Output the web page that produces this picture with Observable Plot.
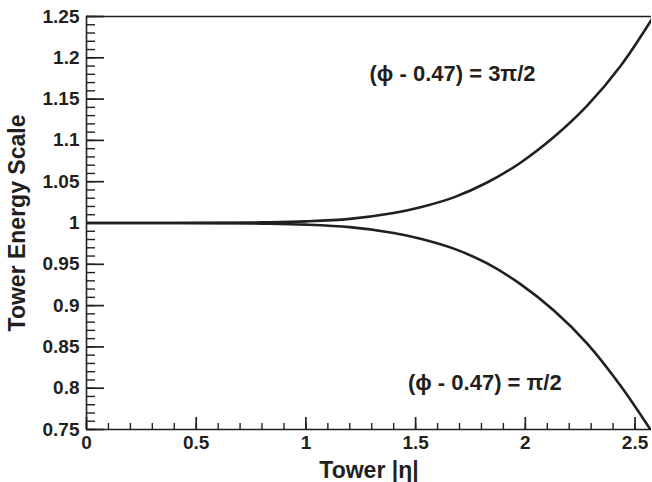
<!DOCTYPE html>
<html><head><meta charset="utf-8">
<script src="https://cdn.jsdelivr.net/npm/d3@7"></script>
<script src="https://cdn.jsdelivr.net/npm/@observablehq/plot@0.6"></script>
<style>html,body{margin:0;padding:0;background:#fff} svg{display:block}</style>
</head><body><div id="chart"></div>
<script>
// Tower |eta| sample points
const eta        = [0, 0.3, 0.6, 0.8, 1.0, 1.2, 1.4, 1.522, 1.674, 1.826, 1.978, 2.13, 2.282, 2.434, 2.575];
// (phi - 0.47) = 3pi/2
const upperScale = [1, 1, 1.0002, 1.0008, 1.002, 1.005, 1.012, 1.019, 1.031, 1.049, 1.073, 1.104, 1.142, 1.190, 1.246];
// (phi - 0.47) = pi/2
const lowerScale = [1, 1, 0.9998, 0.9992, 0.998, 0.995, 0.988, 0.981, 0.969, 0.951, 0.926, 0.894, 0.854, 0.803, 0.748];

const xTickValues = [0, 0.5, 1, 1.5, 2, 2.5];
const yTickValues = [0.75, 0.8, 0.85, 0.9, 0.95, 1, 1.05, 1.1, 1.15, 1.2, 1.25];
const xMinorTicks = d3.range(0, 26).map(i => i / 10);
const yMinorTicks = d3.range(75, 126).map(i => i / 100);

const labelText  = ["(ϕ - 0.47) = 3π/2", "(ϕ - 0.47) = π/2"];
const labelEta   = [1.29, 1.465];
const labelScale = [1.180, 0.806];

const xTitle = "Tower |η|";
const yTitle = "Tower Energy Scale";

const upperData = eta.map((e, i) => ({eta: e, s: upperScale[i]}));
const lowerData = eta.map((e, i) => ({eta: e, s: lowerScale[i]}));
const labelData = labelText.map((t, i) => ({t, eta: labelEta[i], s: labelScale[i]}));

const ink = "#231f20";
const fmt = d => `${+d.toFixed(2)}`;

const W = 652, H = 482, mL = 86, mR = 1, mT = 16, mB = 53;
const frameW = W - mL - mR, frameH = H - mT - mB;

const chart = Plot.plot({
  width: W,
  height: H,
  marginLeft: mL,
  marginRight: mR,
  marginTop: mT,
  marginBottom: mB,
  x: {domain: [0, 2.575], label: null},
  y: {domain: [0.75, 1.25], label: null},
  style: {fontFamily: "'Liberation Sans', Arial, Helvetica, sans-serif", fontWeight: "bold", fontSize: "19px", color: ink, background: "#fff"},
  marks: [
    // inward ticks (minor & major)
    Plot.tickX(xMinorTicks, {x: d => d, insetTop: frameH - 6, stroke: ink, strokeWidth: 1.4}),
    Plot.tickX(xTickValues, {x: d => d, insetTop: frameH - 12, stroke: ink, strokeWidth: 1.7}),
    Plot.tickY(yMinorTicks, {y: d => d, insetRight: frameW - 9, stroke: ink, strokeWidth: 1.4}),
    Plot.tickY(yTickValues, {y: d => d, insetRight: frameW - 18, stroke: ink, strokeWidth: 1.7}),
    // frame (left, top, bottom)
    Plot.ruleX([0], {stroke: ink, strokeWidth: 1.6}),
    Plot.ruleY([0.75, 1.25], {stroke: ink, strokeWidth: 1.6}),
    // tick labels
    Plot.axisX(xTickValues, {tickSize: 0, tickPadding: 6, tickFormat: fmt, label: null, fill: ink}),
    Plot.axisY(yTickValues, {tickSize: 0, tickPadding: 7, tickFormat: fmt, label: null, fill: ink}),
    // axis titles
    Plot.text([xTitle], {frameAnchor: "bottom", lineAnchor: "middle", textAnchor: "middle", dy: 41, fontSize: 23, fontWeight: "bold", fill: ink}),
    Plot.text([yTitle], {frameAnchor: "left", lineAnchor: "middle", textAnchor: "middle", dx: -69, rotate: -90, fontSize: 23, fontWeight: "bold", fill: ink}),
    // curves
    Plot.line(upperData, {x: "eta", y: "s", curve: "catmull-rom", stroke: ink, strokeWidth: 2.6, clip: true}),
    Plot.line(lowerData, {x: "eta", y: "s", curve: "catmull-rom", stroke: ink, strokeWidth: 2.6, clip: true}),
    // annotations
    Plot.text(labelData, {x: "eta", y: "s", text: "t", textAnchor: "start", fontSize: 22, fontWeight: "bold", fill: ink})
  ]
});
document.getElementById("chart").appendChild(chart);
</script>
</body></html>
